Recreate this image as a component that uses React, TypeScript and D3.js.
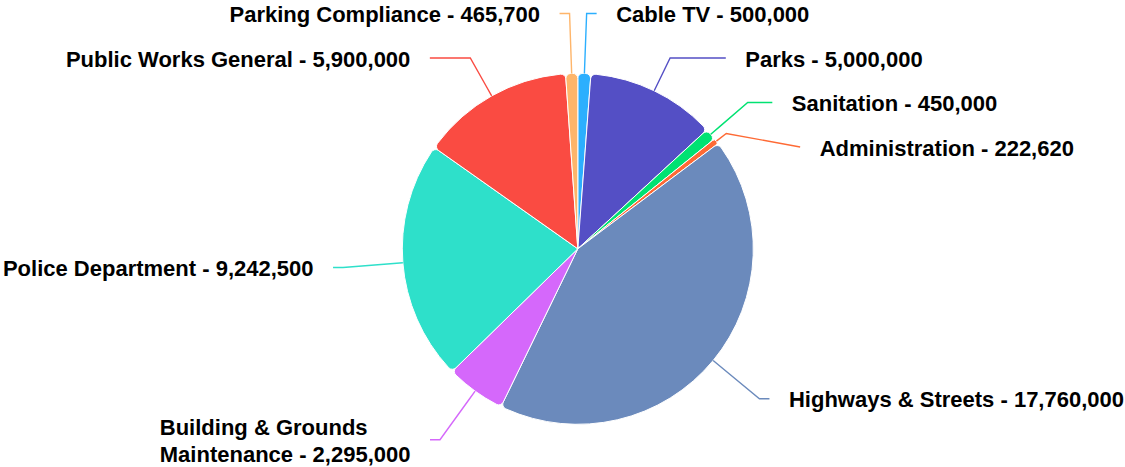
import React, { useMemo } from 'react';
import * as d3 from 'd3';

const categories = [
  'Cable TV',
  'Parks',
  'Sanitation',
  'Administration',
  'Highways & Streets',
  'Building & Grounds Maintenance',
  'Police Department',
  'Public Works General',
  'Parking Compliance',
];
const values = [500000, 5000000, 450000, 222620, 17760000, 2295000, 9242500, 5900000, 465700];
const colors = ['#2caffe', '#544fc5', '#00e272', '#fe6a35', '#6b8abc', '#d568fb', '#2ee0ca', '#fa4b42', '#feb56a'];

const W = 1125;
const H = 467;
const CX = 577.8;
const CY = 248.8;
const R = 175.5;
const DIST = 60;
const PAD = 10;
const BREAK = 12.5;
const TEXT_GAP = 19.5;
const SPACING = 44.5;
const FONT_SIZE = 22;
const LINE_H = 27;
const WRAP_W = 300;
const FONT_FAMILY = "'Liberation Sans', Arial, Helvetica, sans-serif";

let ctx: CanvasRenderingContext2D | null = null;
function measure(t: string): number {
  if (!ctx) {
    const c = document.createElement('canvas');
    ctx = c.getContext('2d');
  }
  if (!ctx) return t.length * FONT_SIZE * 0.6;
  ctx.font = `bold ${FONT_SIZE}px ${FONT_FAMILY}`;
  return ctx.measureText(t).width;
}

function wrap(text: string, maxW: number): string[] {
  const words = text.split(' ');
  const lines: string[] = [];
  let cur = '';
  for (const w of words) {
    const test = cur ? cur + ' ' + w : w;
    if (cur && measure(test) > maxW) {
      lines.push(cur);
      cur = w;
    } else cur = test;
  }
  if (cur) lines.push(cur);
  return lines;
}

export default function App() {
  const fmt = d3.format(',');
  const data = useMemo(() => {
    const pie = d3
      .pie<number>()
      .sort(null)
      .value((d) => d)
      .startAngle(0)
      .endAngle(Math.PI * 2);
    const arcs = pie(values);
    const items = arcs.map((a, i) => {
      const mid = (a.startAngle + a.endAngle) / 2;
      const dx = Math.sin(mid);
      const dy = -Math.cos(mid);
      return {
        i,
        a,
        mid,
        dx,
        dy,
        left: dx < 0,
        naturalY: CY + dy * (R + DIST),
        y: 0,
      };
    });
    [true, false].forEach((side) => {
      const list = items.filter((d) => d.left === side).sort((p, q) => p.naturalY - q.naturalY);
      list.forEach((d, k) => {
        d.y = k === 0 ? d.naturalY : Math.max(d.naturalY, list[k - 1].y + SPACING);
      });
      for (let k = list.length - 1; k >= 0; k--) {
        const maxY = k === list.length - 1 ? H - 10 : list[k + 1].y - SPACING;
        if (list[k].y > maxY) list[k].y = maxY;
      }
    });
    return items;
  }, []);

  const arcGen = d3
    .arc<d3.PieArcDatum<number>>()
    .innerRadius(0)
    .outerRadius(R)
    .cornerRadius(5);

  return (
    <svg
      width={W}
      height={H}
      style={{ position: 'absolute', left: 0, top: 0, background: '#fff' }}
      fontFamily={FONT_FAMILY}
    >
      <g transform={`translate(${CX},${CY})`}>
        {data.map((d) => (
          <path
            key={'s' + d.i}
            d={arcGen(d.a) || ''}
            fill={colors[d.i]}
            stroke="#ffffff"
            strokeWidth={1}
            strokeLinejoin="round"
          />
        ))}
      </g>
      {data.map((d) => {
        const rr = R + DIST;
        const ang = Math.asin(Math.max(-1, Math.min(1, (d.y - CY) / rr)));
        const sgn = d.left ? -1 : 1;
        const x = CX + sgn * (Math.cos(ang) * rr + PAD);
        const y = d.y;
        const bx = CX + d.dx * (R + BREAK);
        const by = CY + d.dy * (R + BREAK);
        const tx = CX + d.dx * R;
        const ty = CY + d.dy * R;
        const crookX = Math.abs(d.dy) > 1e-6 ? CX + (d.dx * (y - CY)) / d.dy : bx;
        const useCrook = d.left ? crookX >= x && crookX <= bx : crookX <= x && crookX >= bx;
        const pts: [number, number][] = [[x, y]];
        if (useCrook) pts.push([crookX, y]);
        pts.push([bx, by], [tx, ty]);
        const pathD = d3.line()(pts) || '';

        const label = `${categories[d.i]} - ${fmt(values[d.i])}`;
        const full = measure(label);
        let lines = [label];
        let anchorX: number;
        if (d.left) {
          const right = x - TEXT_GAP;
          if (full > right) lines = wrap(label, WRAP_W);
          const bw = Math.max(...lines.map(measure));
          anchorX = right - bw;
        } else {
          anchorX = x + TEXT_GAP;
          if (anchorX + full > W) lines = wrap(label, WRAP_W);
        }
        const base0 = y + 8.8 - ((lines.length - 1) * LINE_H) / 2;
        return (
          <g key={'l' + d.i}>
            <path d={pathD} fill="none" stroke={colors[d.i]} strokeWidth={1.4} />
            <text fontSize={FONT_SIZE} fontWeight="bold" fill="#000000">
              {lines.map((ln, k) => (
                <tspan key={k} x={anchorX} y={base0 + k * LINE_H}>
                  {ln}
                </tspan>
              ))}
            </text>
          </g>
        );
      })}
    </svg>
  );
}
